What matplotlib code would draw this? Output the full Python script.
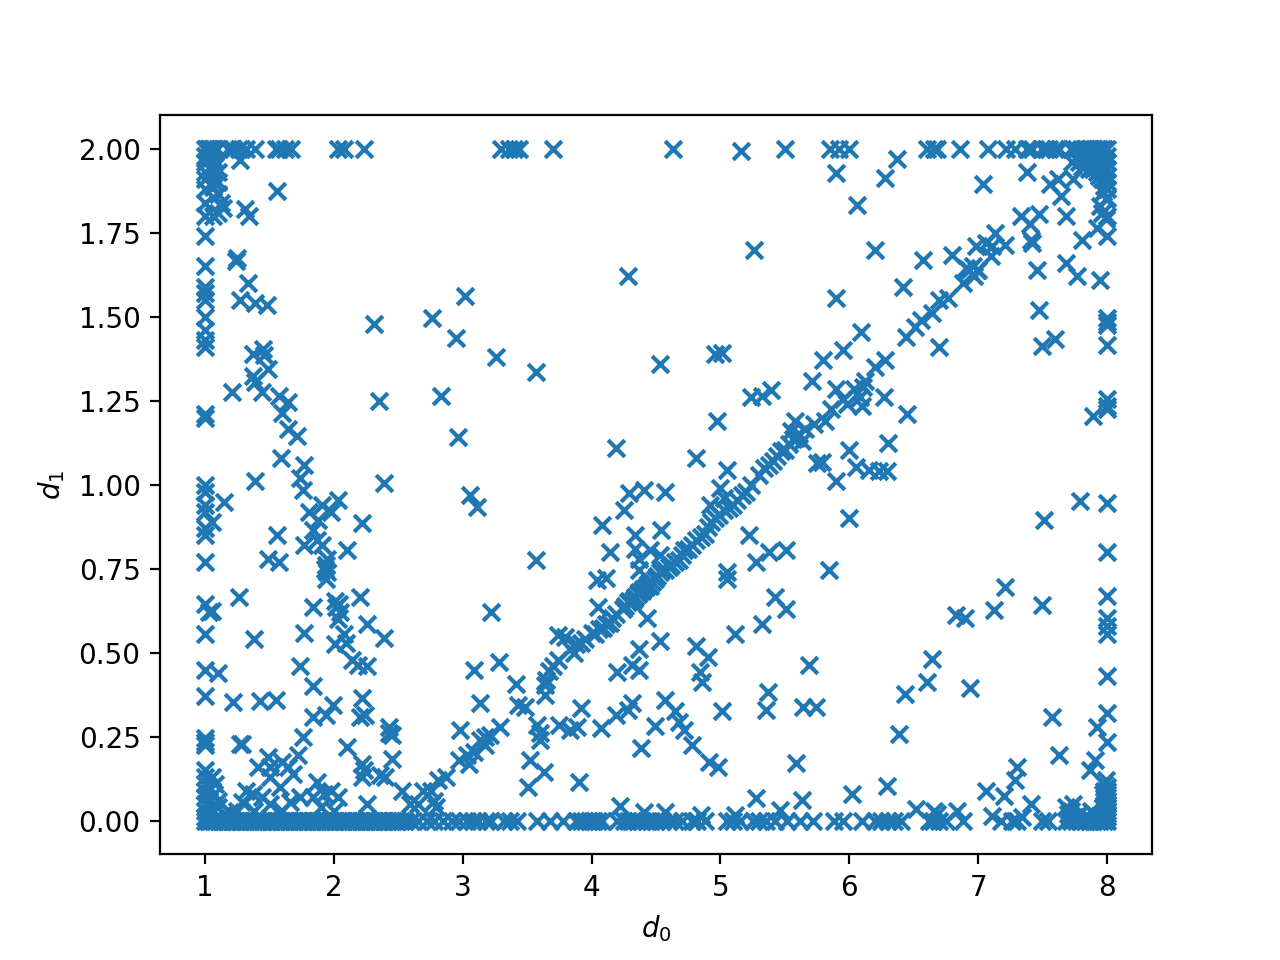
import numpy as np
import matplotlib
matplotlib.use("Agg")
import matplotlib.pyplot as plt

top_row_d0 = [1.0,1.01,1.02,1.03,1.04,1.05,1.06,1.07,1.09,1.18,1.2,1.22,1.26,1.32,1.39,1.55,1.57,1.62,1.67,
              2.03,2.08,2.23,3.3,3.36,3.4,3.44,3.7,4.63,5.5,5.85,5.92,6.0,6.6,6.66,6.68,6.86,7.08,7.22,7.29,7.38,7.42,
              7.5,7.53,7.55,7.6,7.63,7.72,7.76,7.8,7.82,7.84,7.86,7.88,7.9,7.92,7.94,7.96,7.98,8.0]
bottom_row_d0 = [1.0,1.02,1.04,1.06,1.08,1.1,1.12,1.14,1.16,1.18,1.2,1.22,1.24,1.26,1.28,1.3,1.32,1.34,1.36,1.38,1.4,1.42,1.44,
                 1.46,1.48,1.5,1.52,1.54,1.56,1.58,1.6,1.62,1.64,1.66,1.68,1.7,1.72,1.74,1.76,1.78,1.8,1.82,1.84,1.86,1.88,
                 1.9,1.92,1.94,1.96,1.98,2.0,2.02,2.04,2.06,2.08,2.1,2.12,2.14,2.16,2.18,2.2,2.22,2.24,2.26,2.28,2.3,2.32,
                 2.34,2.36,2.38,2.4,2.42,2.44,2.46,2.48,2.5,2.52,2.55,2.6,2.65,2.72,2.78,2.85,2.92,2.97,3.03,3.08,3.12,3.18,
                 3.22,3.32,3.37,3.42,3.58,3.68,3.78,3.88,3.92,3.95,3.98,4.0,4.02,4.05,4.08,4.2,4.25,4.28,4.32,4.35,4.38,
                 4.42,4.46,4.5,4.55,4.6,4.65,4.7,4.78,4.82,4.88,5.05,5.1,5.15,5.25,5.3,5.35,5.42,5.52,5.62,5.72,5.88,5.95,
                 6.1,6.2,6.25,6.3,6.35,6.4,6.62,6.65,6.7,6.75,6.88,7.18,7.26,7.3,7.5,7.54,7.68,7.72,7.76,7.8,7.83,7.86,
                 7.89,7.92,7.95,7.98,8.0]
left_col_d1 = [1.98,1.96,1.93,1.91,1.88,1.84,1.80,1.74,1.65,1.59,1.57,1.55,1.50,1.46,1.43,1.41,1.21,1.20,1.0,0.98,0.94,0.92,
               0.87,0.85,0.77,0.645,0.555,0.45,0.37,0.245,0.235,0.225,0.15,0.13,0.11,0.09,0.07,0.05,0.03,0.01]
right_col_d1 = [0.1,0.09,0.08,0.07,0.06,0.05,0.04,0.03,0.02,0.01,0.235,0.32,0.43,0.555,0.58,0.605,0.67,0.8,0.945,1.225,
                1.235,1.255,1.415,1.475,1.485,1.495,1.74,1.8,1.855,1.88,1.90,1.92,1.94,1.96,1.98]

top_left = [(1.03,1.97),(1.05,1.95),(1.08,1.95),(1.1,1.93),(1.06,1.93),(1.07,1.9),(1.1,1.9),(1.06,1.885),(1.1,1.865),(1.12,1.84),
            (1.06,1.80),(1.10,1.81),(1.14,1.825),(1.27,1.967),(1.31,1.82),(1.34,1.80),(1.56,1.875),(1.02,1.99),(1.04,1.98)]
top_right = [(7.04,1.895),(7.38,1.93),(7.56,1.895),(7.62,1.91),(7.64,1.86),(7.74,1.91),(7.81,1.945),(7.73,1.96),(7.68,1.80),
             (7.33,1.80),(7.47,1.805),(7.4,1.775),(7.42,1.72),(7.41,1.73),(7.81,1.73),(7.92,1.765),(7.95,1.83),(7.99,1.79),
             (7.96,1.81),(7.46,1.64),(7.68,1.66),(7.77,1.62),(7.95,1.61),(7.13,1.75),(6.98,1.71),(7.06,1.72),(7.11,1.71),
             (7.21,1.715),(7.1,1.68),(6.8,1.685),(6.91,1.645),(6.96,1.65),(6.99,1.64),(6.97,1.62),(6.88,1.60),(7.0,1.64),
             (7.78,1.96),(7.82,1.97),(7.85,1.98),(7.88,1.96),(7.9,1.98),(7.93,1.96),(7.96,1.97),(7.92,1.93),(7.95,1.94),
             (7.98,1.95),(7.86,1.94),(7.8,1.985),(7.84,1.99),(7.9,1.995),(7.96,1.99),(7.97,1.93),(7.98,1.91),(7.96,1.91),
             (7.98,1.89),(7.97,1.87),(7.99,1.85),(7.94,1.92),(7.82,1.95),(7.89,1.94)]
bottom_left = [(1.10,0.44),(1.74,0.46),(1.84,0.40),(1.22,0.355),(1.43,0.357),(1.55,0.36),(1.99,0.345),(2.22,0.365),(1.84,0.31),
               (1.94,0.315),(2.2,0.31),(2.24,0.315),(2.43,0.26),(2.43,0.28),(2.45,0.255),(1.29,0.23),(1.27,0.23),(1.76,0.25),
               (1.49,0.19),(1.6,0.175),(1.72,0.195),(1.41,0.16),(1.5,0.16),(1.64,0.16),(1.68,0.14),(2.1,0.22),(2.22,0.17),
               (2.23,0.15),(2.22,0.13),(2.45,0.185),(2.4,0.13),(2.36,0.135),(2.53,0.09),(2.26,0.05),(1.87,0.115),(1.98,0.09),
               (2.03,0.07),(1.92,0.08),(1.84,0.07),(1.74,0.07),(1.66,0.055),(1.58,0.1),(1.5,0.13),(1.32,0.09),(1.37,0.08),
               (1.44,0.07),(1.29,0.055),(1.19,0.025),(1.5,0.05),(1.05,0.13),(1.08,0.11),(1.03,0.1),(1.07,0.08),(1.1,0.06),
               (1.03,0.06),(1.1,0.04),(1.05,0.03),(1.15,0.02),(1.25,0.03),(1.38,0.03),(1.6,0.03),(1.9,0.04),(2.0,0.03)]
bottom_right = [(7.57,0.31),(7.92,0.28),(7.63,0.195),(7.91,0.18),(7.87,0.15),(7.3,0.16),(7.29,0.12),(7.06,0.09),(7.2,0.075),
                (7.41,0.05),(6.84,0.03),(7.11,0.015),(7.34,0.012),(7.68,0.04),(7.74,0.05),(7.7,0.02),(7.78,0.02),(7.85,0.01),
                (7.9,0.02),(7.88,0.03),(7.98,0.11),(7.99,0.12),(7.72,0.03),(7.76,0.01),(7.94,0.015),(7.97,0.08),(7.98,0.06),
                (7.97,0.04),(7.99,0.03),(7.98,0.09)]
left_branch = [(1.25,1.675),(1.24,1.665),(1.33,1.60),(1.27,1.55),(1.39,1.54),(1.48,1.535),(1.21,1.275),(1.37,1.39),(1.45,1.405),
               (1.46,1.385),(1.49,1.345),(1.37,1.325),(1.39,1.305),(1.44,1.275),(1.57,1.265),(1.64,1.245),(1.6,1.215),(1.64,1.165),
               (1.71,1.145),(1.39,1.01),(1.59,1.08),(1.77,1.06),(1.74,1.02),(1.76,0.985),(1.15,0.95),(1.56,0.85),(1.49,0.78),
               (1.57,0.77),(1.77,0.82),(1.81,0.92),(1.88,0.895),(1.91,0.94),(1.98,0.92),(2.03,0.955),(1.84,0.865),(1.87,0.835),
               (1.91,0.82),(1.95,0.78),(1.94,0.76),(1.95,0.74),(1.94,0.72),(2.1,0.805),(2.22,0.885),(2.39,1.005),(1.26,0.665),
               (1.05,0.625),(1.38,0.54),(1.84,0.635),(2.01,0.655),(2.02,0.635),(2.05,0.62),(2.03,0.60),(2.2,0.665),(2.26,0.585),
               (2.39,0.545),(1.77,0.56),(2.08,0.555),(2.01,0.525),(2.09,0.53),(2.14,0.48),(2.19,0.465),(2.26,0.46),(2.04,0.645),
               (1.93,0.75),(1.05,0.89),(1.03,0.62)]
upper_scatter = [(2.31,1.48),(2.35,1.25),(2.76,1.497),(2.95,1.437),(3.02,1.562),(2.83,1.265),(2.96,1.143),(3.26,1.38),(3.57,1.335),
                 (3.06,0.97),(3.11,0.935),(3.57,0.775),(3.22,0.62),(3.28,0.473),(3.41,0.407),(3.43,0.345),(3.58,0.285),(3.6,0.26),
                 (3.63,0.145),(3.52,0.18),(3.51,0.10),(3.6,0.24),(3.09,0.45),(3.13,0.35),(5.16,1.993)]
diagonal = [(2.59,0.05),(2.65,0.05),(2.69,0.09),(2.75,0.09),(2.78,0.06),(2.79,0.04),(2.81,0.12),(2.87,0.13),(2.98,0.27),(3.13,0.24),
            (3.17,0.25),(3.03,0.195),(3.05,0.17),(3.29,0.28),(3.21,0.255),(3.17,0.225),(3.09,0.205),(2.97,0.18),(3.64,0.405),
            (3.67,0.445),(3.74,0.48),(3.74,0.553),(3.79,0.548),(3.83,0.51),(3.88,0.525),(3.95,0.54),(4.0,0.56),(4.06,0.57),
            (4.11,0.585),(4.16,0.605),(4.19,0.615),(4.26,0.64),(4.29,0.655),(4.31,0.65),(4.34,0.665),(4.37,0.68),(4.4,0.69),
            (4.42,0.695),(4.45,0.70),(4.49,0.72),(4.53,0.74),(4.57,0.745),(4.62,0.76),(4.68,0.775),(4.72,0.805),(4.78,0.82),
            (4.81,0.835),(4.88,0.855),(4.93,0.89),(4.99,0.91),(5.07,0.93),(5.13,0.955),(5.2,0.98),(5.38,1.06),(5.44,1.085),
            (5.5,1.105),(5.56,1.135),(5.61,1.15),(5.66,1.165),(5.73,1.18),(5.81,1.19),(5.86,1.225),(5.95,1.255),(6.04,1.285),
            (6.12,1.31),(6.2,1.35),(6.28,1.37),(6.44,1.44),(6.51,1.47),(6.56,1.49),(6.64,1.51),(6.7,1.55),(6.77,1.555),
            (6.93,1.64),(5.55,1.16),(5.58,1.19),(5.63,1.13),(5.9,1.285),(5.98,1.24),(6.08,1.26),(6.1,1.235),(6.11,1.29),
            (4.24,0.63),(4.28,0.65),(4.33,0.66),(4.36,0.675),(4.39,0.685),(4.44,0.705),(4.47,0.71),(4.51,0.73),(4.55,0.75),
            (4.6,0.755),(4.65,0.77),(4.7,0.79),(4.75,0.81),(4.85,0.845),(4.9,0.875),(4.96,0.9),(5.03,0.925),(5.1,0.94),
            (5.17,0.97),(5.24,1.0),(5.3,1.03),(5.34,1.05),(5.41,1.07),(5.47,1.1),(5.53,1.12),(5.59,1.14),(3.48,0.34),(3.7,0.46),
            (3.65,0.42),(3.86,0.5),(3.92,0.53),(4.03,0.555),(4.09,0.575),(4.14,0.59)]
above_diagonal = [(4.08,0.88),(4.04,0.717),(4.11,0.723),(4.14,0.80),(4.05,0.637),(4.19,1.11),(4.28,1.62),(4.25,0.925),(4.29,0.975),
                  (4.41,0.985),(4.57,0.98),(4.54,0.865),(4.34,0.85),(4.34,0.81),(4.37,0.78),(4.45,0.805),(4.37,0.745),(4.53,0.79),
                  (4.81,1.08),(4.97,1.19),(4.96,1.39),(5.01,1.393),(4.53,1.36),(5.26,1.7),(5.24,1.26),(5.32,1.265),(5.39,1.283),
                  (5.05,1.045),(5.0,0.99),(4.92,0.94),(5.03,0.96),(5.9,1.555),(5.95,1.40),(6.09,1.455),(5.8,1.37),(5.71,1.31),
                  (5.9,1.928),(6.06,1.833),(6.2,1.70),(6.42,1.59),(6.28,1.913),(6.37,1.97),(6.57,1.67),(6.27,1.26),(6.3,1.125),
                  (6.0,1.105),(6.05,1.053),(6.15,1.045),(6.23,1.04),(6.29,1.04),(5.75,1.065),(5.79,1.068),(5.9,1.012),(6.0,0.9)]
below_diagonal = [(5.22,0.85),(5.28,0.77),(5.38,0.80),(5.51,0.807),(5.05,0.74),(5.05,0.72),(5.42,0.667),(5.51,0.63),(5.11,0.555),
                  (5.32,0.585),(5.84,0.745),(6.7,1.41),(6.45,1.21),(4.43,0.605),(4.37,0.51),(4.31,0.465),(4.2,0.444),(4.53,0.535),
                  (4.37,0.45),(4.19,0.315),(4.28,0.33),(4.31,0.35),(4.38,0.217),(4.49,0.283),(4.57,0.36),(4.65,0.327),(4.68,0.295),
                  (4.72,0.27),(4.78,0.226),(4.91,0.175),(4.98,0.16),(4.81,0.52),(4.9,0.488),(4.84,0.443),(4.86,0.414),(5.01,0.327),
                  (5.37,0.383),(5.35,0.33),(5.69,0.464),(5.64,0.339),(5.74,0.339),(5.59,0.172),(5.28,0.068),(5.63,0.062),(5.46,0.033),
                  (6.02,0.08),(6.29,0.104),(6.39,0.259),(6.43,0.378),(6.6,0.413),(6.64,0.482),(6.83,0.613),(6.9,0.605),(6.94,0.395),
                  (7.12,0.628),(7.21,0.696),(6.52,0.035),(6.66,0.03),(6.68,0.02),(4.22,0.045),(4.41,0.025),(4.57,0.025),(4.85,0.018),
                  (5.11,0.018),(3.9,0.115),(3.75,0.285),(3.83,0.27),(3.92,0.335),(3.89,0.28),(4.07,0.277),(3.64,0.375),(7.5,0.643),
                  (7.51,0.895),(7.79,0.952),(7.47,1.52),(7.5,1.413),(7.6,1.435),(7.89,1.205)]

groups = [top_left, top_right, bottom_left, bottom_right, left_branch, upper_scatter,
          diagonal, above_diagonal, below_diagonal]
d0 = top_row_d0 + bottom_row_d0 + [1.0] * len(left_col_d1) + [8.0] * len(right_col_d1)
d1 = [2.0] * len(top_row_d0) + [0.0] * len(bottom_row_d0) + left_col_d1 + right_col_d1
for g in groups:
    d0 += [p[0] for p in g]
    d1 += [p[1] for p in g]

fig, ax = plt.subplots(figsize=(6.4, 4.8), dpi=200)
ax.scatter(d0, d1, marker="x")
ax.set_xlabel("$d_0$")
ax.set_ylabel("$d_1$")
ax.set_yticks(np.arange(0, 2.01, 0.25))
fig.savefig("out.png", dpi=200)
